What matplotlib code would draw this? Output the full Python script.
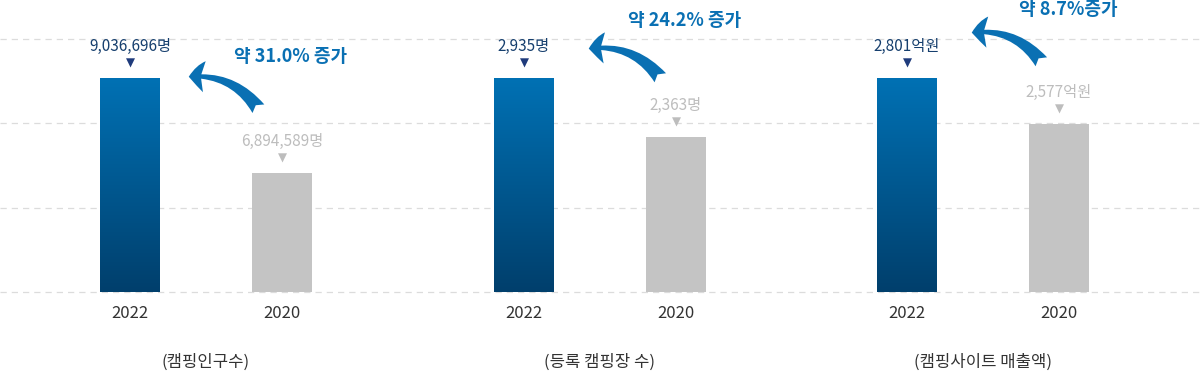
"""Camping statistics: 2022 vs 2020 comparison bars."""

import matplotlib.pyplot as plt
import numpy as np
from matplotlib.colors import LinearSegmentedColormap
from matplotlib.lines import Line2D
from matplotlib.patches import FancyArrowPatch
from matplotlib.transforms import IdentityTransform

plt.rcParams["font.family"] = ["Noto Sans CJK KR", "DejaVu Sans"]

YEARS = ["2022", "2020"]
CAMPERS = [9036696, 6894589]
CAMPSITES = [2935, 2363]
SALES = [2801, 2577]
PANEL_VALUES = [CAMPERS, CAMPSITES, SALES]
UNITS = ["명", "명", "억원"]
TITLES = ["(캠핑인구수)", "(등록 캠핑장 수)", "(캠핑사이트 매출액)"]
GROWTH = ["약 31.0% 증가", "약 24.2% 증가", "약 8.7%증가"]

# axis floor per panel (bars are drawn on a truncated scale)
AXIS_FLOOR = [4211200, 860, 1759]

# layout in pixels
W, H = 1200, 376
PANEL_LEFT = [54, 448, 831]
AX_W, AX_BOTTOM, AX_TOP = 304, 292, 39
BLUE_TOP = 78
BAR_WIDTH = 60 / 152

# arrow / growth-label offsets (pixels)
HEAD_OFF = [(56, 1), (62, 29), (62, 45)]
TAIL_OFF = [(-22, 62), (-14, 57), (-16, 60)]
GROWTH_LIFT = [22, 58, 69]

NAVY = "#163f6e"
BLUE = "#0a70b3"
GRAY = "#c4c4c4"
TEXT = "#333333"

grad_cmap = LinearSegmentedColormap.from_list(
    "bar", ["#003f6c", "#0071b4"]
)

fig = plt.figure(figsize=(W / 100, H / 100), dpi=100)

ax_height = (AX_BOTTOM - AX_TOP) / H

# dashed grid lines across the whole width
for k in range(4):
    y = (H - AX_BOTTOM) / H + k * ax_height / 3
    fig.add_artist(
        Line2D(
            [0, 1], [y, y],
            transform=fig.transFigure,
            color="#dcdcdc",
            linewidth=0.9,
            linestyle=(0, (5, 4)),
            zorder=0,
        )
    )

for i, values in enumerate(PANEL_VALUES):
    ax = fig.add_axes(
        [PANEL_LEFT[i] / W, (H - AX_BOTTOM) / H, AX_W / W, ax_height]
    )
    ax.patch.set_alpha(0)

    floor = AXIS_FLOOR[i]
    top = floor + (values[0] - floor) * (AX_BOTTOM - AX_TOP) / (AX_BOTTOM - BLUE_TOP)

    bars = ax.bar(
        [0, 1],
        values,
        bottom=0,
        width=BAR_WIDTH,
        color=["none", GRAY],
        zorder=2,
    )

    # gradient fill for the 2022 bar
    blue_bar = bars[0]
    gradient = np.linspace(0, 1, 256).reshape(-1, 1)
    img = ax.imshow(
        gradient,
        cmap=grad_cmap,
        origin="lower",
        aspect="auto",
        extent=[-BAR_WIDTH / 2, BAR_WIDTH / 2, floor, values[0]],
        zorder=3,
    )
    img.set_clip_path(blue_bar)
    ax.set_xlim(-0.5, 1.5)
    ax.set_ylim(floor, top)

    # value labels with small triangle markers
    label_colors = [NAVY, "#bdbdbd"]
    tri_colors = ["#1f3b7c", "#bdbdbd"]
    for x, v, lc, tc in zip([0, 1], values, label_colors, tri_colors):
        ax.annotate(
            f"{v:,}{UNITS[i]}",
            xy=(x, v),
            xytext=(0, 32),
            textcoords="offset pixels",
            ha="center",
            va="center",
            fontsize=11,
            color=lc,
        )
        ax.annotate(
            "▼",
            xy=(x, v),
            xytext=(0, 15),
            textcoords="offset pixels",
            ha="center",
            va="center",
            fontsize=8.5,
            color=tc,
            family="DejaVu Sans",
        )

    ax.set_xticks([0, 1], YEARS)
    ax.tick_params(axis="x", length=0, pad=9, labelsize=12, labelcolor=TEXT)
    ax.set_yticks([])
    for spine in ax.spines.values():
        spine.set_visible(False)

    ax.annotate(
        TITLES[i],
        xy=(0.5, 0),
        xycoords="axes fraction",
        xytext=(0, -70),
        textcoords="offset pixels",
        ha="center",
        va="center",
        fontsize=12,
        fontweight="medium",
        color=TEXT,
    )

    # growth label
    ax.annotate(
        GROWTH[i],
        xy=(0, values[0]),
        xytext=(161, GROWTH_LIFT[i]),
        textcoords="offset pixels",
        ha="center",
        va="center",
        fontsize=13,
        fontweight="bold",
        color=BLUE,
        annotation_clip=False,
    )

    # curved arrow from 2020 bar to 2022 bar
    head = ax.transData.transform((0, values[0])) + np.array(HEAD_OFF[i])
    tail = ax.transData.transform((1, values[1])) + np.array(TAIL_OFF[i])
    fig.add_artist(
        FancyArrowPatch(
            posA=tuple(tail),
            posB=tuple(head),
            transform=IdentityTransform(),
            connectionstyle="arc3,rad=0.3",
            arrowstyle="fancy,head_length=0.8,head_width=1.6,tail_width=0.75",
            mutation_scale=14,
            color=BLUE,
            linewidth=0,
            zorder=5,
        )
    )

fig.savefig("out.png", dpi=100)
